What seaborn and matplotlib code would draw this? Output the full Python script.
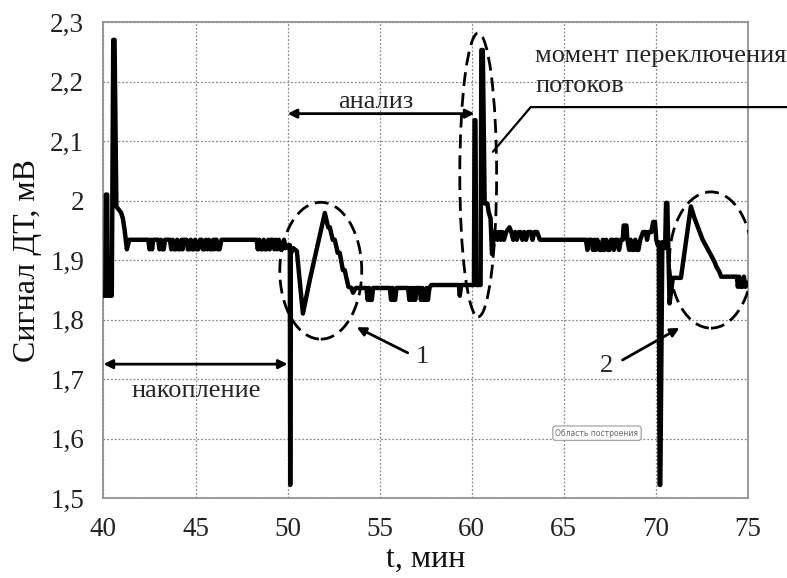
import numpy as np
import pandas as pd
import matplotlib
matplotlib.use("Agg")
import matplotlib.pyplot as plt
from matplotlib.patches import Ellipse
import seaborn as sns

# ---------------- data ----------------
# start: initial spikes and settling
t_start = [40.00, 40.10, 40.13, 40.20, 40.23, 40.45, 40.53, 40.60, 40.70, 40.82, 40.95,
           41.05, 41.15, 41.27, 41.40]
v_start = [1.840, 1.840, 2.010, 2.010, 1.840, 1.840, 2.270, 2.270, 1.990, 1.985, 1.980,
           1.970, 1.950, 1.918, 1.934]

# accumulation 1 : baseline with small dips
t_acc1 = [42.43, 42.50, 42.58, 42.64, 42.70, 42.97, 43.04, 43.12, 43.19, 43.27, 43.34,
          43.61, 43.68, 43.76, 43.84, 43.92, 44.00, 44.08, 44.16, 44.24, 44.30, 44.33,
          44.51, 44.58, 44.66, 44.74, 44.82, 44.90, 44.98, 45.06, 45.14, 45.24,
          45.33, 45.40, 45.48, 45.56, 45.64, 45.72, 45.80, 45.88, 45.96, 46.02, 46.05,
          46.14, 46.22, 46.30, 46.41, 48.31, 48.38, 48.46, 48.54, 48.62, 48.70, 48.78,
          48.86, 48.95, 49.03, 49.10, 49.20, 49.28, 49.36, 49.44, 49.52, 49.60, 49.70,
          49.80, 49.90, 50.05, 50.12]
v_acc1 = [1.934, 1.918, 1.934, 1.918, 1.934, 1.934, 1.918, 1.934, 1.918, 1.918, 1.934,
          1.934, 1.918, 1.934, 1.918, 1.918, 1.934, 1.918, 1.918, 1.934, 1.918, 1.934,
          1.934, 1.918, 1.918, 1.934, 1.918, 1.918, 1.934, 1.918, 1.918, 1.934,
          1.934, 1.918, 1.918, 1.934, 1.918, 1.934, 1.918, 1.918, 1.934, 1.918, 1.934,
          1.934, 1.918, 1.918, 1.934, 1.934, 1.918, 1.934, 1.918, 1.918, 1.934, 1.918,
          1.918, 1.934, 1.918, 1.934, 1.934, 1.918, 1.934, 1.918, 1.934, 1.918, 1.918,
          1.934, 1.920, 1.925, 1.925]

# switching at 50 min, response peak 1
t_resp1 = [50.14, 50.17, 50.30, 50.50, 50.83, 51.20, 52.02, 52.20, 52.29, 52.45, 52.56,
           52.72, 52.83, 53.00, 53.10, 53.30]
v_resp1 = [1.522, 1.910, 1.920, 1.915, 1.810, 1.866, 1.979, 1.955, 1.955, 1.934, 1.934,
           1.912, 1.912, 1.883, 1.883, 1.855]

# analysis 1
t_an1 = [53.46, 53.55, 53.70, 53.91, 54.28, 54.35, 54.43, 54.50, 54.57, 54.64, 55.00,
         55.55, 55.62, 55.70, 55.77, 55.84, 55.91, 56.54, 56.61, 56.69, 56.77, 56.85,
         56.93, 57.00, 57.17, 57.24, 57.32, 57.40, 57.48, 57.55, 57.62, 57.70, 57.80,
         59.30, 59.35, 59.42, 60.10]
v_an1 = [1.853, 1.845, 1.853, 1.853, 1.853, 1.833, 1.853, 1.833, 1.833, 1.853, 1.853,
         1.853, 1.833, 1.853, 1.833, 1.833, 1.853, 1.853, 1.833, 1.853, 1.833, 1.853,
         1.833, 1.853, 1.853, 1.833, 1.853, 1.833, 1.833, 1.853, 1.833, 1.853, 1.858,
         1.858, 1.840, 1.858, 1.858]

# switching of flows at 60 min
t_sw = [60.12, 60.15, 60.20, 60.24, 60.48, 60.52, 60.60, 60.70, 60.85, 60.92, 61.02,
        61.10, 61.22]
v_sw = [1.858, 2.135, 2.135, 1.858, 1.858, 2.253, 2.253, 1.995, 1.995, 1.980, 1.970,
        1.910, 1.947]

# accumulation 2
t_acc2 = [61.33, 61.40, 61.50, 61.58, 61.66, 61.75, 61.87, 62.05, 62.15, 62.25, 62.35,
          62.45, 62.55, 62.65, 62.75, 62.85, 62.95, 63.05, 63.20, 63.30, 63.40, 63.55,
          63.70, 66.20, 66.28, 66.36, 66.50, 66.58, 66.66, 66.74, 66.82, 66.95, 67.05,
          67.12, 67.20, 67.30, 67.40, 67.48, 67.56, 67.64, 67.72, 67.80, 67.90, 68.00,
          68.10, 68.20, 68.25, 68.40, 68.45, 68.55, 68.63, 68.72, 68.80, 68.88, 68.96,
          69.05, 69.15, 69.30, 69.45, 69.52, 69.60, 69.75, 69.85, 69.95, 70.02, 70.10,
          70.16]
v_acc2 = [1.947, 1.934, 1.947, 1.934, 1.947, 1.934, 1.947, 1.955, 1.947, 1.934, 1.947,
          1.934, 1.947, 1.947, 1.934, 1.947, 1.934, 1.947, 1.947, 1.934, 1.947, 1.947,
          1.934, 1.934, 1.917, 1.934, 1.934, 1.917, 1.934, 1.917, 1.934, 1.917, 1.917,
          1.934, 1.917, 1.934, 1.917, 1.917, 1.934, 1.934, 1.917, 1.934, 1.934, 1.917,
          1.934, 1.934, 1.958, 1.958, 1.934, 1.917, 1.934, 1.917, 1.917, 1.934, 1.917,
          1.917, 1.934, 1.947, 1.947, 1.934, 1.947, 1.947, 1.964, 1.964, 1.934, 1.925,
          1.930]

# switching at 70 min, response peak 2
t_resp2 = [70.20, 70.24, 70.35, 70.50, 70.55, 70.62, 70.74, 70.92, 71.36, 71.90, 72.10,
           72.27, 72.40, 72.54, 72.70, 72.90, 73.05, 73.18, 73.30, 73.45, 73.54, 74.00,
           74.40, 74.45, 74.52, 74.60, 74.70, 74.78, 74.86, 75.00]
v_resp2 = [1.522, 1.522, 1.930, 1.920, 1.996, 1.996, 1.827, 1.870, 1.870, 1.990, 1.970,
           1.956, 1.945, 1.934, 1.925, 1.914, 1.905, 1.897, 1.888, 1.880, 1.872, 1.872,
           1.872, 1.855, 1.872, 1.855, 1.855, 1.872, 1.855, 1.862]

x_ticks = [40, 45, 50, 55, 60, 65, 70, 75]
x_tick_labels = ["40", "45", "50", "55", "60", "65", "70", "75"]
y_ticks = [1.5, 1.6, 1.7, 1.8, 1.9, 2.0, 2.1, 2.2, 2.3]
y_tick_labels = ["1,5", "1,6", "1,7", "1,8", "1,9", "2", "2,1", "2,2", "2,3"]

# ---------------- figure ----------------
sns.set_theme(style="white")
plt.rcParams["font.family"] = ["Liberation Serif", "DejaVu Serif"]

fig = plt.figure(figsize=(7.87, 5.78), dpi=100)
ax = fig.add_axes([0.1315, 0.1384, 0.8189, 0.8235])

t_all = t_start + t_acc1 + t_resp1 + t_an1 + t_sw + t_acc2 + t_resp2
v_all = v_start + v_acc1 + v_resp1 + v_an1 + v_sw + v_acc2 + v_resp2
df = pd.DataFrame({"t": t_all, "v": v_all})

sns.lineplot(data=df, x="t", y="v", sort=False, estimator=None, color="black",
             linewidth=3.2, ax=ax, zorder=3)

ax.set_xlim(40, 75)
ax.set_ylim(1.5, 2.3)
ax.set_xticks(x_ticks)
ax.set_xticklabels(x_tick_labels)
ax.set_yticks(y_ticks)
ax.set_yticklabels(y_tick_labels)
ax.tick_params(axis="both", labelsize=19.5, colors="#222222", length=6, width=1,
               direction="out", pad=8)
ax.tick_params(axis="both", color="#888888")
ax.grid(True, linestyle=(0, (1.5, 1.5)), color="#8a8a8a", linewidth=0.9)
for side, sp in ax.spines.items():
    sp.set_visible(True)
    sp.set_color("#8a8a8a")
    sp.set_linewidth(1.2)

ax.set_xlabel("t, мин", fontsize=23, color="#111111", labelpad=2)
ax.set_ylabel("Сигнал ДТ, мВ", fontsize=23, color="#111111", labelpad=6)

# ---------------- annotations ----------------
arrow_kw = dict(arrowstyle="<|-|>", color="black", lw=2.0, mutation_scale=13,
                shrinkA=0, shrinkB=0)
ax.annotate("", xy=(40.0, 1.725), xytext=(50.0, 1.725), arrowprops=arrow_kw, zorder=4)
ax.text(45.02, 1.670, "накопление", fontsize=19, ha="center", va="baseline")

ax.annotate("", xy=(50.0, 2.146), xytext=(60.15, 2.146), arrowprops=arrow_kw, zorder=4)
ax.text(54.8, 2.155, "анализ", fontsize=19, ha="center", va="baseline")

ax.text(63.45, 2.233, "момент переключения", fontsize=19, ha="left", va="baseline")
ax.text(63.45, 2.182, "потоков", fontsize=19, ha="left", va="baseline")
ax.plot([61.15, 63.2, 77.2], [2.082, 2.157, 2.157], color="black", lw=1.6,
        clip_on=False, zorder=4)

dash = (0, (5, 2.5))
for (cx, cy, w, h) in [(51.8, 1.882, 4.45, 0.230), (60.35, 2.043, 2.0, 0.477),
                       (72.99, 1.900, 4.5, 0.229)]:
    ax.add_patch(Ellipse((cx, cy), w, h, fill=False, edgecolor="black", lw=2.0,
                         linestyle=dash, zorder=4))

one_kw = dict(arrowstyle="-|>", color="black", lw=2.0, mutation_scale=13,
              shrinkA=0, shrinkB=0)
ax.annotate("", xy=(53.75, 1.787), xytext=(56.52, 1.744), arrowprops=one_kw)
ax.text(57.34, 1.727, "1", fontsize=19, ha="center", va="baseline")
ax.annotate("", xy=(71.28, 1.786), xytext=(68.19, 1.732), arrowprops=one_kw)
ax.text(67.32, 1.712, "2", fontsize=19, ha="center", va="baseline")

ax.text(66.8, 1.609, "Область построения", fontsize=5.5, color="#666666",
        family="DejaVu Sans", ha="center", va="center", zorder=5,
        bbox=dict(boxstyle="round,pad=0.35", fc="white", ec="#999999", lw=0.8))

fig.savefig("out.png", dpi=100)
